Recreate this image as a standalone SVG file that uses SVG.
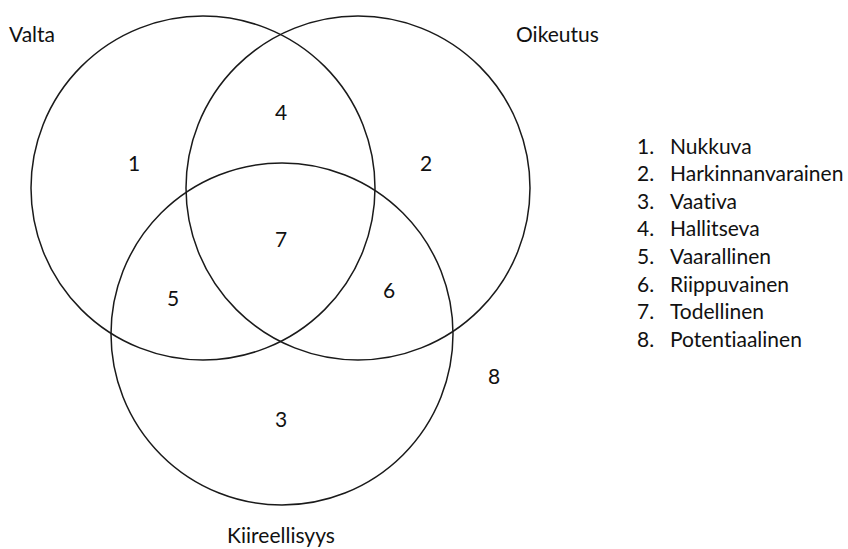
<svg xmlns="http://www.w3.org/2000/svg" width="848" height="549" viewBox="0 0 848 549">
<style>
.c{fill:none;stroke:#1a1a1a;stroke-width:1.5}
text{font-family:Lato,"Open Sans","Liberation Sans",sans-serif;font-size:21px;fill:#111;font-variant-ligatures:none;font-feature-settings:"liga" 0,"clig" 0}
.m{text-anchor:middle}
</style>
<rect width="848" height="549" fill="#fff"/>
<g id="connectors"></g>
<g id="valta"><circle class="c" cx="203" cy="188" r="172"/><text x="9" y="42">Valta</text></g>
<g id="oikeutus"><circle class="c" cx="358" cy="188" r="172"/><text x="516" y="42">Oikeutus</text></g>
<g id="kiireellisyys"><circle class="c" cx="282" cy="334" r="171"/><text class="m" x="281" y="543">Kiireellisyys</text></g>
<g id="regions">
<text class="m" x="134" y="171">1</text>
<text class="m" x="426" y="171">2</text>
<text class="m" x="281" y="427">3</text>
<text class="m" x="281" y="120">4</text>
<text class="m" x="173" y="306">5</text>
<text class="m" x="389" y="298">6</text>
<text class="m" x="281" y="247">7</text>
<text class="m" x="494" y="384">8</text>
</g>
<g id="legend">
<text x="637" y="154">1.</text><text x="670" y="154">Nukkuva</text>
<text x="637" y="181">2.</text><text x="670" y="181">Harkinnanvarainen</text>
<text x="637" y="209">3.</text><text x="670" y="209">Vaativa</text>
<text x="637" y="236">4.</text><text x="670" y="236">Hallitseva</text>
<text x="637" y="264">5.</text><text x="670" y="264">Vaarallinen</text>
<text x="637" y="292">6.</text><text x="670" y="292">Riippuvainen</text>
<text x="637" y="319">7.</text><text x="670" y="319">Todellinen</text>
<text x="637" y="347">8.</text><text x="670" y="347">Potentiaalinen</text>
</g>
</svg>
